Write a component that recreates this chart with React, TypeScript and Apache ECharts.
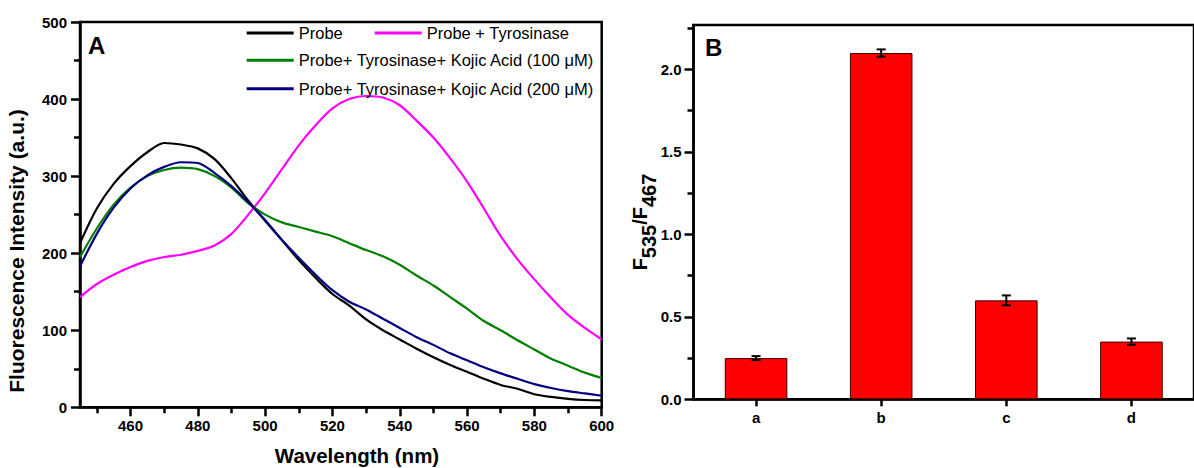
import React, { useEffect, useRef } from "react";
import * as echarts from "echarts";

// ---------- Panel A data ----------
const wavelengths = [
  445, 450, 455, 460, 465, 470, 475, 480, 485, 490, 495, 500, 505, 510, 515, 520,
  525, 530, 535, 540, 545, 550, 555, 560, 565, 570, 575, 580, 585, 590, 595, 600,
];
const probe = [
  213, 258, 290, 313, 331, 343, 341, 336, 322, 297, 268, 242, 217, 191, 168, 147,
  132, 114, 100, 88, 76, 65, 55, 46, 37, 29, 24, 17, 13.5, 11, 9.5, 9,
];
const probeTyrosinase = [
  143, 160, 172, 182, 190, 195, 198, 203, 210, 225, 250, 278, 309, 340, 366, 388,
  400, 404, 402, 392, 372, 350, 323, 293, 258, 222, 192, 166, 142, 120, 103, 88,
];
const kojic100 = [
  195, 232, 263, 285, 300, 308, 311, 309, 300, 285, 265, 250, 240, 234, 228, 222,
  213, 204, 196, 185, 171, 158, 143, 128, 112, 100, 87, 75, 63, 54, 45, 38,
];
const kojic200 = [
  183, 225, 259, 284, 301, 312, 318, 317, 304, 287, 266, 243, 217, 194, 172, 152,
  137, 127, 115, 103, 91, 81, 70, 61, 52, 44, 37, 30, 25, 21, 18, 15,
];
const seriesNames = [
  "Probe",
  "Probe + Tyrosinase",
  "Probe+ Tyrosinase+ Kojic Acid (100 μM)",
  "Probe+ Tyrosinase+ Kojic Acid (200 μM)",
];
const seriesColors = ["#000000", "#ff00ff", "#008000", "#000080"];
const xMajorTicks = [460, 480, 500, 520, 540, 560, 580, 600];
const xMinorTicks = [450, 470, 490, 510, 530, 550, 570, 590];

// ---------- Panel B data ----------
const barCategories = ["a", "b", "c", "d"];
const ratioValues = [0.25, 2.1, 0.6, 0.35];
const ratioErrors = [0.012, 0.022, 0.03, 0.019];
const ratioMajorTicks = [0, 0.5, 1.0, 1.5, 2.0];
const ratioMinorTicks = [0.25, 0.75, 1.25, 1.75, 2.25];

const FONT = '"Liberation Sans", Arial, Helvetica, sans-serif';
const TICK_COLOR = "#000000";

export default function App() {
  const ref = useRef<HTMLDivElement>(null);

  useEffect(() => {
    if (!ref.current) return;
    const chart = echarts.init(ref.current, undefined, { renderer: "svg" });

    const tickLabel = { color: "#000", fontSize: 15, fontWeight: "bold" as const, fontFamily: FONT };
    const axisLine = { show: true, onZero: false, lineStyle: { color: "#000", width: 2.5 } };
    const majorTick = () => ({ show: true, length: 9, lineStyle: { color: TICK_COLOR, width: 2.5 } });
    const minorTickStyle = () => ({ show: true, length: 6, lineStyle: { color: TICK_COLOR, width: 2.5 } });

    const lineData = [probe, probeTyrosinase, kojic100, kojic200];

    const legendBase = () => ({
      left: 246.7,
      icon: "rect",
      itemWidth: 47,
      itemHeight: 3,
      itemGap: 32,
      padding: 0,
      selectedMode: false,
      textStyle: { color: "#000", fontSize: 16.5, fontFamily: FONT, lineHeight: 18 },
    });

    const option: any = {
      animation: false,
      backgroundColor: "#fff",
      grid: [
        { left: 80, right: 592.3, top: 22, bottom: 60.7, show: true, borderColor: "#000", borderWidth: 2.5 },
        { left: 693.5, right: -7.6, top: 25, bottom: 68.7, show: true, borderColor: "#000", borderWidth: 2.5 },
      ],
      legend: [
        { ...legendBase(), top: 24, data: [seriesNames[0], seriesNames[1]] },
        { ...legendBase(), top: 51.3, data: [seriesNames[2]] },
        { ...legendBase(), top: 79.7, data: [seriesNames[3]] },
      ],
      xAxis: [
        {
          gridIndex: 0, type: "value", position: "bottom", min: 445, max: 600,
          axisLine: { ...axisLine },
          axisTick: { ...majorTick(), customValues: xMajorTicks },
          axisLabel: { ...tickLabel, customValues: xMajorTicks, margin: 11 },
          splitLine: { show: false },
        },
        {
          gridIndex: 0, type: "value", position: "bottom", min: 445, max: 600,
          axisLine: { show: false, onZero: false },
          axisTick: { ...minorTickStyle(), customValues: xMinorTicks },
          axisLabel: { show: false },
          splitLine: { show: false },
        },
        {
          gridIndex: 1, type: "category", position: "bottom", data: barCategories,
          axisLine: { ...axisLine },
          axisTick: { show: true, alignWithLabel: true, length: 7, lineStyle: { color: TICK_COLOR, width: 2.5 } },
          axisLabel: { ...tickLabel, margin: 11 },
          splitLine: { show: false },
        },
      ],
      yAxis: [
        {
          gridIndex: 0, type: "value", position: "left", min: 0, max: 500, interval: 100,
          axisLine: { ...axisLine },
          axisTick: majorTick(),
          minorTick: { ...minorTickStyle(), splitNumber: 2 },
          axisLabel: { ...tickLabel, margin: 13 },
          splitLine: { show: false },
          minorSplitLine: { show: false },
        },
        {
          gridIndex: 1, type: "value", position: "left", min: 0, max: 2.27,
          axisLine: { ...axisLine },
          axisTick: { ...majorTick(), customValues: ratioMajorTicks },
          axisLabel: { ...tickLabel, customValues: ratioMajorTicks, margin: 12, formatter: (v: number) => v.toFixed(1) },
          splitLine: { show: false },
        },
        {
          gridIndex: 1, type: "value", position: "left", min: 0, max: 2.27,
          axisLine: { show: false, onZero: false },
          axisTick: { ...minorTickStyle(), customValues: ratioMinorTicks },
          axisLabel: { show: false },
          splitLine: { show: false },
        },
      ],
      series: [
        ...lineData.map((arr, k) => ({
          name: seriesNames[k],
          type: "line",
          xAxisIndex: 0,
          yAxisIndex: 0,
          data: wavelengths.map((w, i) => [w, arr[i]]),
          symbol: "none",
          showSymbol: false,
          smooth: 0.3,
          color: seriesColors[k],
          itemStyle: { color: seriesColors[k] },
          lineStyle: { color: seriesColors[k], width: 2.2 },
          z: k === 1 ? 3 : 4,
        })),
        {
          name: "ratio",
          type: "bar",
          xAxisIndex: 2,
          yAxisIndex: 1,
          data: ratioValues,
          barWidth: "50%",
          itemStyle: { color: "#ff0000", borderColor: "#3a0000", borderWidth: 1 },
        },
        {
          name: "error",
          type: "custom",
          xAxisIndex: 2,
          yAxisIndex: 1,
          data: ratioValues.map((v, i) => [i, v - ratioErrors[i], v + ratioErrors[i]]),
          encode: { x: 0, y: [1, 2] },
          z: 10,
          renderItem: (params: any, api: any) => {
            const lo = api.coord([api.value(0), api.value(1)]);
            const hi = api.coord([api.value(0), api.value(2)]);
            const hw = 4.5;
            const st = { stroke: "#000", lineWidth: 2 };
            return {
              type: "group",
              children: [
                { type: "line", shape: { x1: lo[0], y1: lo[1], x2: hi[0], y2: hi[1] }, style: st },
                { type: "line", shape: { x1: lo[0] - hw, y1: lo[1], x2: lo[0] + hw, y2: lo[1] }, style: st },
                { type: "line", shape: { x1: hi[0] - hw, y1: hi[1], x2: hi[0] + hw, y2: hi[1] }, style: st },
              ],
            };
          },
        },
      ],
      graphic: [
        { type: "text", x: 88, y: 45, style: { text: "A", fill: "#000", fontSize: 24, fontWeight: "bold", fontFamily: FONT, align: "left", verticalAlign: "middle" } },
        { type: "text", x: 705, y: 47, style: { text: "B", fill: "#000", fontSize: 24, fontWeight: "bold", fontFamily: FONT, align: "left", verticalAlign: "middle" } },
        { type: "text", x: 357, y: 455, style: { text: "Wavelength (nm)", fill: "#000", fontSize: 20.5, fontWeight: "bold", fontFamily: FONT, align: "center", verticalAlign: "middle" } },
        { type: "text", x: 16, y: 251, rotation: Math.PI / 2, style: { text: "Fluorescence Intensity (a.u.)", fill: "#000", fontSize: 21, fontWeight: "bold", fontFamily: FONT, align: "center", verticalAlign: "middle" } },
        {
          type: "text", x: 644, y: 222, rotation: Math.PI / 2,
          style: {
            text: "{f|F}{s|535}{f|/F}{s|467}", fill: "#000", fontFamily: FONT, align: "center", verticalAlign: "middle",
            rich: {
              f: { fontSize: 20, fontWeight: "bold", fontFamily: FONT, fill: "#000", verticalAlign: "top" },
              s: { fontSize: 20, fontWeight: "bold", fontFamily: FONT, fill: "#000", verticalAlign: "bottom", padding: [9, 0, 0, 0] },
            },
          },
        },
      ],
    };

    chart.setOption(option);
    return () => chart.dispose();
  }, []);

  return <div ref={ref} style={{ position: "fixed", left: 0, top: 0, width: 1194, height: 468, background: "#fff" }} />;
}
